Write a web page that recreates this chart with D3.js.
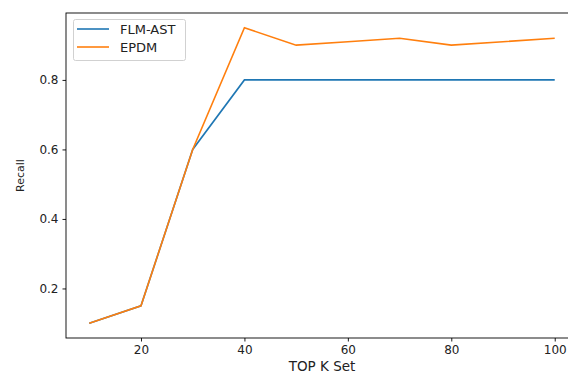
<!DOCTYPE html>
<html><head><meta charset="utf-8">
<script src="https://cdn.jsdelivr.net/npm/d3@7"></script>
<style>body{margin:0;background:#fff;overflow:hidden}svg{display:block}text{font-family:"DejaVu Sans",sans-serif;fill:#222}</style>
</head><body><svg id="c" width="568" height="374"></svg>
<script>
const topK = [10, 20, 30, 40, 50, 60, 70, 80, 90, 100];
const flmAst = [0.10, 0.15, 0.60, 0.80, 0.80, 0.80, 0.80, 0.80, 0.80, 0.80];
const epdm = [0.10, 0.15, 0.60, 0.95, 0.90, 0.91, 0.92, 0.90, 0.91, 0.92];
const seriesNames = ["FLM-AST", "EPDM"];
const xTicks = [20, 40, 60, 80, 100];
const yTicks = [0.2, 0.4, 0.6, 0.8];

const colors = ["#1f77b4", "#ff7f0e"];
const svg = d3.select("#c");
const L = 66, R = 578, T = 13, B = 338;
const x = d3.scaleLinear().domain([5.5, 104.5]).range([L, R]);
const y = d3.scaleLinear().domain([0.0575, 0.9925]).range([B, T]);

const series = [flmAst, epdm];
const line = d3.line().x((d, i) => x(topK[i])).y(d => y(d));
series.forEach((s, k) => {
  svg.append("path").datum(s).attr("d", line).attr("fill", "none")
    .attr("stroke", colors[k]).attr("stroke-width", 1.6);
});

// spines
svg.append("rect").attr("x", L).attr("y", T).attr("width", R - L).attr("height", B - T)
  .attr("fill", "none").attr("stroke", "#000").attr("stroke-width", 0.9);

const xAxis = svg.append("g").attr("transform", `translate(0,${B})`)
  .call(d3.axisBottom(x).tickValues(xTicks).tickSize(3.5).tickPadding(4).tickFormat(d3.format("d")));
const yAxis = svg.append("g").attr("transform", `translate(${L},0)`)
  .call(d3.axisLeft(y).tickValues(yTicks).tickSize(3.5).tickPadding(4).tickFormat(d3.format(".1f")));
[xAxis, yAxis].forEach(a => {
  a.select(".domain").remove();
  a.selectAll("line").attr("stroke", "#000").attr("stroke-width", 0.9);
  a.selectAll("text").attr("font-size", 12).attr("font-family", "DejaVu Sans").attr("fill", "#222");
});

svg.append("text").attr("x", (L + R) / 2).attr("y", 371).attr("text-anchor", "middle")
  .attr("font-size", 13.5).text("TOP K Set");
svg.append("text").attr("transform", `translate(24,${(T + B) / 2}) rotate(-90)`)
  .attr("text-anchor", "middle").attr("font-size", 11).text("Recall");

// legend
const lg = svg.append("g");
lg.append("rect").attr("x", 73.5).attr("y", 19.5).attr("width", 112).attr("height", 41).attr("rx", 2)
  .attr("fill", "#fff").attr("fill-opacity", 0.8).attr("stroke", "#ccc").attr("stroke-width", 0.9);
seriesNames.forEach((n, k) => {
  const yy = 29 + k * 18;
  lg.append("line").attr("x1", 77).attr("x2", 109).attr("y1", yy).attr("y2", yy)
    .attr("stroke", colors[k]).attr("stroke-width", 1.6);
  lg.append("text").attr("x", 120).attr("y", yy + 4.5).attr("font-size", 13).text(n);
});
</script></body></html>
